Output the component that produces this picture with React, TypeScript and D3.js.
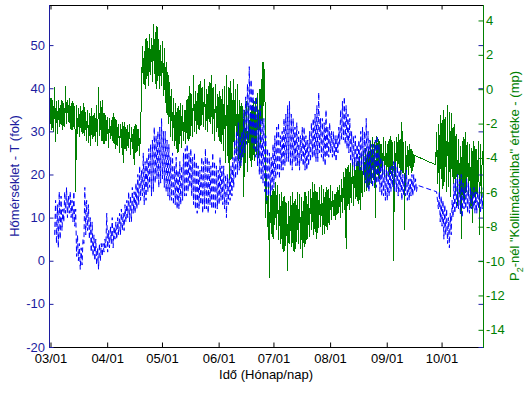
import * as d3 from "d3"

// day 0 = 03/01
const baseDay = new Date(2009, 2, 1)
const DAY = 86400000
const dateAt = (d: number) => new Date(baseDay.getTime() + d * DAY)

// temperature (fok), daily [night, afternoon] readings, from 03/03
const tempAStart = 2
const tempA: [number, number][] = [
  [6, 14], [4, 13], [3, 16], [5, 15], [7, 12], [9, 16], [11, 17], [10, 15], [11, 16], [10, 14],
  [9, 16], [8, 12], [1, 6], [0, 4], [-2, 3], [-1, 5], [4, 17], [6, 14], [7, 13], [5, 10],
  [2, 9], [1, 6], [0, 5], [-1, 3], [-2, 4], [0, 4], [1, 4], [2, 5], [3, 11], [2, 7],
  [3, 8], [4, 10], [3, 8], [5, 9], [5, 10], [6, 11], [6, 12], [7, 11], [7, 13], [9, 14],
  [10, 16], [9, 15], [9, 17], [11, 16], [11, 18], [12, 20], [13, 22], [14, 21], [15, 25], [13, 23],
  [14, 24], [16, 26], [17, 27], [15, 28], [16, 31], [18, 29], [19, 30], [17, 31], [18, 33], [19, 30],
  [17, 30], [16, 28], [15, 27], [14, 24], [14, 25], [13, 22], [13, 24], [12, 21], [12, 23], [13, 22],
  [14, 25], [15, 26], [15, 27], [16, 25], [17, 26], [15, 24], [13, 25], [12, 23], [11, 22], [12, 21],
  [13, 24], [11, 23], [12, 26], [12, 24], [11, 23], [13, 22], [12, 25], [12, 23], [11, 22], [12, 21],
  [13, 24], [14, 22], [13, 22], [12, 20], [10, 20], [13, 19], [14, 22], [15, 24], [17, 28], [19, 30],
  [20, 32], [21, 29], [22, 30], [24, 35], [25, 38], [27, 41], [28, 45], [29, 42], [27, 40], [26, 37],
  [24, 38], [22, 35], [20, 36], [19, 33], [18, 33], [16, 29], [14, 26], [15, 25], [15, 24], [16, 27],
  [17, 29], [19, 31], [20, 32], [19, 29], [21, 30], [21, 33], [22, 34], [23, 36], [23, 37], [22, 34],
  [21, 33], [23, 31], [22, 32], [22, 30], [21, 29], [23, 31], [22, 31], [21, 29], [21, 28], [22, 30],
  [23, 32], [24, 33], [24, 34], [23, 36], [23, 39], [25, 33], [24, 33], [23, 32], [22, 35], [24, 31],
  [24, 32], [25, 30], [24, 30], [24, 29], [23, 29], [25, 31], [27, 35], [28, 37], [28, 38], [27, 36],
  [26, 34], [25, 33], [23, 30], [22, 29], [21, 29], [22, 27], [22, 28], [21, 30], [21, 31], [20, 30],
  [18, 33], [17, 30], [16, 28], [18, 27], [17, 27], [18, 28], [17, 29], [18, 27], [16, 24], [15, 23],
  [15, 22], [14, 21], [14, 21], [15, 22], [16, 22], [17, 23], [16, 23], [16, 22], [15, 21], [16, 21],
  [14, 20], [15, 20], [15, 21], [14, 19], [14, 19], [15, 20], [15, 20], [16, 19], [16, 17.5],
]
// after the data gap, from 09/28
const tempBStart = 211
const tempB: [number, number][] = [
  [16, 14], [12, 16], [9, 15], [8, 14], [5, 13], [6, 12], [4, 10], [3, 11], [6, 14], [10, 18],
  [11, 19], [12, 20], [12, 19], [11, 20], [10, 18], [12, 17], [12, 19], [11, 18], [11, 17], [12, 16],
  [12, 17], [11, 16], [11, 16], [12, 17], [11, 15], [12, 17],
]

// P2 kollimációhiba (mp), daily [low, high], from 02/28
const kollAStart = -0.5
const kollA: [number, number][] = [
  [-2.0, -0.5], [-2.4, -0.6], [-2.5, 0.1], [-3.1, -0.7], [-2.6, -0.6], [-2.2, -0.9], [-2.1, -0.6], [-2.4, -0.8], [-2.2, 0.2], [-2.0, -0.6],
  [-1.9, -0.5], [-2.3, -0.8], [-2.4, -0.7], [-2.2, -1.0], [-6.0, -0.9], [-2.6, -1.1], [-2.8, -1.0], [-2.5, -1.2], [-2.6, -0.8], [-2.7, -1.3],
  [-3.0, -1.2], [-3.1, -1.4], [-3.3, -1.1], [-2.9, -1.5], [-2.8, -1.4], [-3.1, -0.9], [-3.3, 0.1], [-2.7, -0.7], [-3.0, -0.6], [-3.2, -1.4],
  [-3.2, -1.5], [-3.0, -1.6], [-3.4, -1.7], [-2.9, -1.8], [-3.0, -1.4], [-3.2, -1.6], [-3.5, -1.8], [-3.3, -2.0], [-3.7, -2.0], [-3.4, -1.9],
  [-4.3, -1.9], [-3.5, -2.2], [-3.6, -2.1], [-3.4, -2.0], [-3.8, -2.2], [-3.5, -2.3], [-4.4, -2.0], [-3.7, -2.1], [-3.6, -2.3], [-3.9, -2.2],
  [-0.5, 2.5], [0.3, 2.2], [0.0, 3.0], [0.6, 2.8], [0.2, 3.2], [0.8, 3.0], [0.4, 3.8], [0.9, 3.3], [0.0, 3.7], [0.5, 2.9],
  [0.0, 2.6], [0.2, 2.8], [-0.4, 2.4], [-0.8, 1.6], [-1.5, 1.0], [-2.0, 0.4], [-2.8, 0.0], [-3.0, -0.5], [-3.3, -0.8], [-3.5, -1.1],
  [-3.7, -1.0], [-3.2, -0.8], [-3.4, -0.9], [-3.0, -1.2], [-3.2, -0.6], [-2.9, -0.4], [-3.0, 0.2], [-2.7, -0.3], [-2.8, 0.8], [-2.5, -0.1],
  [-2.6, -0.2], [-2.3, 0.3], [-2.4, 0.5], [-2.1, 0.1], [-2.2, 0.6], [-2.4, 0.0], [-2.5, 0.2], [-1.9, 0.4], [-2.0, 0.8], [-2.6, 0.1],
  [-3.0, 0.3], [-2.5, -0.3], [-2.8, -0.1], [-3.1, -0.4], [-3.2, 0.0], [-3.6, 0.2], [-4.3, 0.8], [-3.9, 0.1], [-5.3, 0.5], [-4.1, -0.2],
  [-4.0, 0.6], [-3.5, 0.0], [-3.8, 0.3], [-4.2, -0.6], [-4.6, -0.8], [-4.1, -1.0], [-6.3, -1.2], [-4.3, -0.7], [-4.8, -1.0], [-4.0, -1.3],
  [-4.5, -0.9], [-4.1, -0.6], [-4.2, -0.5], [-3.8, -0.2], [-4.0, 0.0], [-3.2, 0.6], [-2.0, 1.6], [-1.0, 1.2], [-7.5, -5.0], [-8.0, -5.4],
  [-11.0, -5.5], [-8.4, -5.9], [-8.7, -5.8], [-7.9, -5.4], [-8.2, -5.6], [-8.8, -6.1], [-9.0, -6.0], [-9.3, -6.3], [-9.5, -6.2], [-9.1, -6.6],
  [-10.6, -6.5], [-9.0, -6.2], [-9.2, -6.0], [-9.4, -6.5], [-9.5, -6.4], [-8.9, -6.0], [-9.0, -6.1], [-9.3, -6.3], [-9.8, -6.5], [-9.2, -6.0],
  [-9.0, -6.2], [-8.7, -5.9], [-8.6, -5.8], [-8.2, -5.4], [-8.5, -5.5], [-8.3, -5.9], [-8.7, -6.0], [-8.1, -5.7], [-8.0, -5.6], [-8.5, -5.8],
  [-8.4, -6.0], [-8.0, -5.7], [-8.2, -5.8], [-7.9, -5.6], [-7.6, -5.9], [-7.4, -6.1], [-7.6, -6.0], [-7.3, -5.7], [-7.2, -5.6], [-7.5, -5.2],
  [-7.2, -4.8], [-7.0, -4.6], [-9.3, -4.5], [-6.8, -4.4], [-7.0, -4.3], [-6.6, -4.1], [-6.8, -4.0], [-6.4, -4.3], [-6.5, -4.2], [-6.7, -3.9],
  [-7.0, -3.8], [-6.3, -3.6], [-6.0, -3.4], [-5.9, -3.7], [-5.8, -3.5], [-5.6, -3.0], [-5.5, -2.8], [-5.3, -3.1], [-7.5, -2.7], [-5.0, -2.9],
  [-5.2, -3.0], [-4.9, -3.2], [-5.0, -2.8], [-5.1, -3.0], [-5.2, -3.2], [-4.8, -2.9], [-5.0, -2.7], [-4.7, -3.1], [-10.0, -3.0], [-5.1, -2.8],
  [-4.8, -2.6], [-4.6, -2.9], [-5.0, -1.9], [-4.9, -3.1], [-8.2, -3.0], [-4.7, -3.3], [-5.0, -3.2], [-4.6, -3.5], [-4.9, -3.6], [-4.5, -3.85],
]
// after the data gap, from 09/28
const kollBStart = 210.5
const kollB: [number, number][] = [
  [-4.4, -2.5], [-5.5, -2.0], [-6.3, -1.5], [-5.2, -1.8], [-5.8, -1.2], [-5.4, -1.6], [-6.0, -0.9], [-5.7, -1.3], [-6.3, -1.4], [-5.1, -2.2],
  [-5.5, -2.0], [-6.0, -2.6], [-6.8, -2.9], [-6.1, -3.3], [-8.7, -3.0], [-6.4, -2.8], [-6.5, -2.5], [-6.0, -3.1], [-6.2, -3.2], [-6.9, -3.4],
  [-7.8, -3.0], [-6.3, -3.3], [-6.6, -3.5], [-6.1, -3.0], [-8.5, -3.2], [-6.4, -3.6],
]

const monthTicks = [0, 1, 2, 3, 4, 5, 6, 7].map((m) => new Date(2009, 2 + m, 1))
const tempTicks = [-20, -10, 0, 10, 20, 30, 40, 50]
const kollTicks = [-14, -12, -10, -8, -6, -4, -2, 0, 2, 4]

const axisBlue = "#1c1ca0"
const lineBlue = "#0000ff"
const green = "#008000"
const font = "'Liberation Sans', Arial, sans-serif"

type Pt = { t: Date; v: number }
const toPoints = (start: number, pairs: [number, number][]): Pt[] =>
  pairs.flatMap(([a, b], i) => [
    { t: dateAt(start + i), v: a },
    { t: dateAt(start + i + 0.5), v: b },
  ])

export default function App() {
  const left = 49
  const right = 483
  const top = 5
  const bottom = 347

  const x = d3.scaleTime().domain([dateAt(-1.1), dateAt(236.4)]).range([left, right])
  const yT = d3.scaleLinear().domain([-20, 59.3]).range([bottom, top])
  const yK = d3.scaleLinear().domain([-15, 4.9]).range([bottom, top])

  const tempLine = d3.line<Pt>().x((p) => x(p.t)).y((p) => yT(p.v))
  const kollLine = d3.line<Pt>().x((p) => x(p.t)).y((p) => yK(p.v))

  const tempPts = [...toPoints(tempAStart, tempA), ...toPoints(tempBStart, tempB)]
  const kollPts = [...toPoints(kollAStart, kollA), ...toPoints(kollBStart, kollB)]
  const fmt = d3.timeFormat("%m/%d")
  const tl = 4.5

  return (
    <svg width={531} height={393} style={{ position: "absolute", left: 0, top: 0, background: "#fff" }} fontFamily={font} fontSize={13}>
      <defs>
        <clipPath id="plot">
          <rect x={left} y={top} width={right - left} height={bottom - top} />
        </clipPath>
      </defs>
      <g clipPath="url(#plot)">
        <path d={kollLine(kollPts) || ""} fill="none" stroke={green} strokeWidth={1} shapeRendering="crispEdges" />
        <path d={tempLine(tempPts) || ""} fill="none" stroke={lineBlue} strokeWidth={1} strokeDasharray="5,3" />
      </g>

      {/* frame */}
      <line x1={left} x2={right} y1={top + 0.5} y2={top + 0.5} stroke="#000" />
      <line x1={left} x2={right} y1={bottom + 0.5} y2={bottom + 0.5} stroke="#000" />
      <line x1={left + 0.5} x2={left + 0.5} y1={top} y2={bottom + 1} stroke={axisBlue} />
      <line x1={right + 0.5} x2={right + 0.5} y1={top} y2={bottom + 1} stroke={green} />

      {/* x ticks */}
      {monthTicks.map((d, i) => (
        <g key={i}>
          <line x1={x(d)} x2={x(d)} y1={bottom} y2={bottom - tl} stroke="#000" />
          <line x1={x(d)} x2={x(d)} y1={top} y2={top + tl} stroke="#000" />
          <text x={x(d)} y={362.5} textAnchor="middle" fill="#000">
            {fmt(d)}
          </text>
        </g>
      ))}

      {/* left axis */}
      {tempTicks.map((v) => (
        <g key={v}>
          <line x1={left} x2={left + tl} y1={yT(v) + 0.5} y2={yT(v) + 0.5} stroke={axisBlue} />
          <line x1={right} x2={right - tl} y1={yT(v) + 0.5} y2={yT(v) + 0.5} stroke={axisBlue} />
          <text x={45} y={yT(v) + 4.5} textAnchor="end" fill={axisBlue}>
            {v}
          </text>
        </g>
      ))}

      {/* right axis */}
      {kollTicks.map((v) => (
        <g key={v}>
          <line x1={right + 1} x2={right - tl} y1={yK(v) + 0.5} y2={yK(v) + 0.5} stroke={green} />
          <text x={486} y={yK(v) + 4.5} textAnchor="start" fill={green}>
            {v}
          </text>
        </g>
      ))}

      <text x={(left + right) / 2} y={379} textAnchor="middle" fill="#000">
        Idő (Hónap/nap)
      </text>
      <text transform={`translate(18.5,${(top + bottom) / 2}) rotate(-90)`} textAnchor="middle" fill={axisBlue}>
        Hőmérséklet - T (fok)
      </text>
      <text transform={`translate(519,${(top + bottom) / 2}) rotate(-90)`} textAnchor="middle" fill={green}>
        <tspan>P</tspan>
        <tspan dy={4} fontSize={9}>2</tspan>
        <tspan dy={-4}>-nél "Kollimációhiba" értéke - (mp)</tspan>
      </text>
    </svg>
  )
}
